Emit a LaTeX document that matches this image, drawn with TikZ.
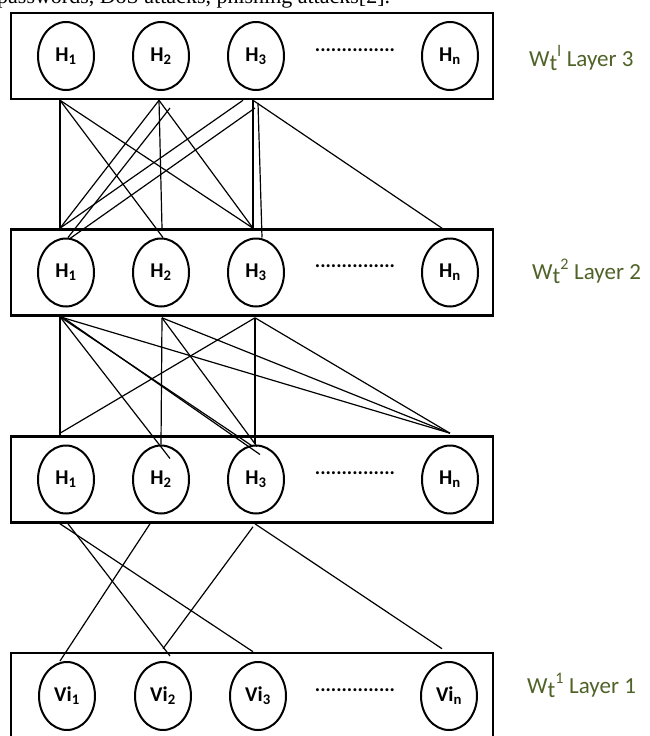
\documentclass[tikz,border=0pt]{standalone}
\usepackage{fontspec}
\setmainfont{Carlito}
\newfontfamily\serifrm{Liberation Serif}
\usetikzlibrary{shapes.geometric,calc}
\definecolor{layergreen}{HTML}{4F6228}
\tikzset{
  layerbox/.style={draw, line width=2.6pt, minimum width=482pt, minimum height=86pt, inner sep=0pt},
  unit/.style={draw, ellipse, line width=2pt, minimum width=56pt, minimum height=68pt, inner sep=0pt,
    font=\bfseries\fontsize{21}{24}\selectfont},
  wire/.style={line width=1.2pt},
  layerlabel/.style={anchor=base west, text=layergreen, inner sep=0pt, font=\fontsize{23}{26}\selectfont},
  dotsnode/.style={inner sep=0pt, font=\bfseries\fontsize{20}{20}\selectfont}
}
\begin{document}
\begin{tikzpicture}[x=1pt,y=-1pt]
\useasboundingbox (0,0) rectangle (650,736);
\begin{scope}
\clip (0,0) rectangle (650,736);
% cut-off text line at the top
\node[anchor=base west, inner sep=0pt, font=\serifrm\fontsize{22}{24}\selectfont] (toptext) at (-3,4) {passwords, DoS attacks, phishing attacks[2].};

% layer boxes
\node[layerbox] (b3) at (252,56) {};
\node[layerbox] (b2) at (252,272.5) {};
\node[layerbox] (bm) at (252,479.5) {};
\node[layerbox] (b1) at (252,696) {};

% layer 3 units
\node[unit] (h31) at (66,56) {H\textsubscript{1}};
\node[unit] (h32) at (161,56) {H\textsubscript{2}};
\node[unit] (h33) at (256,56) {H\textsubscript{3}};
\node[dotsnode] (d3) at (355,50) {...............};
\node[unit] (h3n) at (450,56) {H\textsubscript{n}};
% layer 2 units
\node[unit] (h21) at (66,272.5) {H\textsubscript{1}};
\node[unit] (h22) at (161,272.5) {H\textsubscript{2}};
\node[unit] (h23) at (256,272.5) {H\textsubscript{3}};
\node[dotsnode] (d2) at (355,266.5) {...............};
\node[unit] (h2n) at (450,272.5) {H\textsubscript{n}};
% middle layer units
\node[unit] (hm1) at (66,479.5) {H\textsubscript{1}};
\node[unit] (hm2) at (161,479.5) {H\textsubscript{2}};
\node[unit] (hm3) at (256,479.5) {H\textsubscript{3}};
\node[dotsnode] (dm) at (355,473.5) {...............};
\node[unit] (hmn) at (450,479.5) {H\textsubscript{n}};
% layer 1 units
\node[unit] (v1) at (67,696) {Vi\textsubscript{1}};
\node[unit] (v2) at (163,696) {Vi\textsubscript{2}};
\node[unit] (v3) at (258,696) {Vi\textsubscript{3}};
\node[dotsnode] (d1) at (355,690) {...............};
\node[unit] (vn) at (449,696) {Vi\textsubscript{n}};

% labels
\node[layerlabel] (lab3) at (529,66) {W\raisebox{-0.45ex}{t}\textsuperscript{l} Layer 3};
\node[layerlabel] (lab2) at (532,279) {W\raisebox{-0.45ex}{t}\textsuperscript{2} Layer 2};
\node[layerlabel] (lab1) at (527,693) {W\raisebox{-0.45ex}{t}\textsuperscript{1} Layer 1};

% ports between layer 3 and layer 2
\coordinate (a1) at ($(h31 |- b3.south)+(-6,0)$);
\coordinate (a2) at ($(h32 |- b3.south)+(-2,0)$);
\coordinate (a3) at ($(h33 |- b3.south)+(-3,0)$);
\coordinate (a2b) at (170,108);
\coordinate (a3b) at (255,108);
\coordinate (a3c) at (258,103);
\coordinate (c1) at ($(h21 |- b2.north)+(-6,0)$);
\coordinate (c2) at ($(h22 |- b2.north)+(1,0)$);
\coordinate (c3) at ($(h23 |- b2.north)+(-3,0)$);
\coordinate (cn) at ($(h2n |- b2.north)+(-8,0)$);
\draw[wire] (a1) -- (c1);
\draw[wire] (a1) -- (c3);
\draw[wire] (a1) -- ($(h22.north)+(2,0)$);
\draw[wire] (a2) -- (c1);
\draw[wire] (a2) -- (c2);
\draw[wire] (a2) -- (c3);
\draw[wire] (a2b) -- ($(h21.north)+(2,0)$);
\draw[wire] ($(a3)+(-10,0)$) -- (c1);
\draw[wire] (a3b) -- ($(h21.north)+(4,1)$);
\draw[wire] (a3) -- (c3);
\draw[wire] (a3c) -- ($(h23.north)+(6,0)$);
\draw[wire] (a3) -- (cn);

% ports between layer 2 and middle layer
\coordinate (e1) at ($(h21 |- b2.south)+(-6,0)$);
\coordinate (e2) at ($(h22 |- b2.south)+(1,1)$);
\coordinate (e3) at ($(h23 |- b2.south)+(-1,1)$);
\coordinate (f1) at ($(hm1 |- bm.north)+(-6,0)$);
\coordinate (fn) at ($(hmn |- bm.north)+(0,-2)$);
\draw[wire] (e1) -- (f1);
\draw[wire] (e1) -- ($(hm2.north)+(9,14)$);
\draw[wire] (e1) -- ($(hm3.north)+(-3,2)$);
\draw[wire] ($(e1)+(2,0)$) -- ($(hm3.north)+(4,10)$);
\draw[wire] (e1) -- (fn);
\draw[wire] (e2) -- (hm2.north);
\draw[wire] (e2) -- ($(hm3.north)+(1,2)$);
\draw[wire] (e2) -- (fn);
\draw[wire] (e3) -- ($(f1)+(0,-2)$);
\draw[wire] (e3) -- ($(hm3.north)+(-1,-1)$);
\draw[wire] (e3) -- (fn);

% ports between middle layer and layer 1
\coordinate (g1) at ($(hm1 |- bm.south)+(-6,0)$);
\coordinate (g1b) at ($(hm1 |- bm.south)+(2,0)$);
\coordinate (g2) at ($(hm2 |- bm.south)+(-11,0)$);
\coordinate (g3) at ($(hm3 |- bm.south)+(-3,3)$);
\coordinate (g3b) at ($(hm3 |- bm.south)+(-1,0)$);
\draw[wire] (g1) -- ($(v3 |- b1.north)+(-5,0)$);
\draw[wire] (g1b) -- ($(v2.north)+(7,-5)$);
\draw[wire] (g2) -- ($(v1.north)+(-7,0)$);
\draw[wire] (g3) -- ($(v2 |- b1.north)+(0,-3)$);
\draw[wire] (g3b) -- ($(vn |- b1.north)+(-7,-3)$);
\end{scope}
\end{tikzpicture}
\end{document}
